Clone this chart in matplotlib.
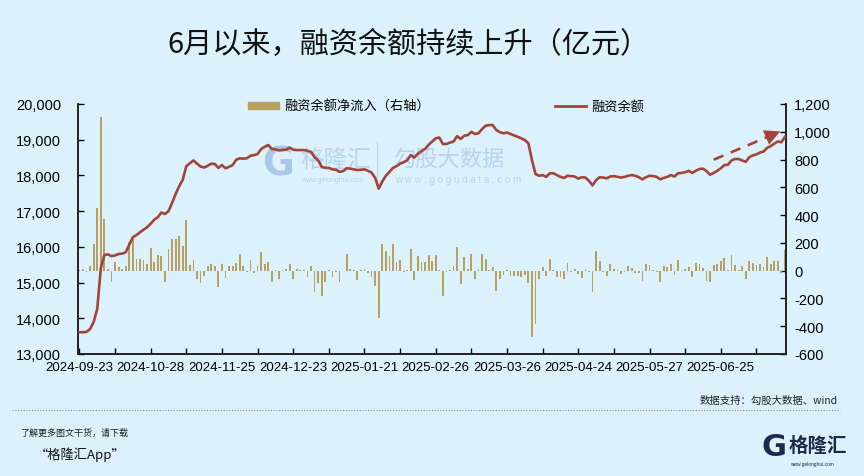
import matplotlib
matplotlib.use("Agg")
import matplotlib.pyplot as plt
from matplotlib.patches import Patch
from matplotlib.lines import Line2D
from matplotlib.ticker import FuncFormatter

plt.rcParams['font.family'] = ['Liberation Sans', 'Noto Sans CJK SC', 'DejaVu Sans']
plt.rcParams['axes.unicode_minus'] = False

# 融资余额（亿元），交易日序列 2024-09-23 起
balance = [13610, 13610, 13620, 13700, 13900, 14260, 15400, 15770, 15790, 15740,
           15760, 15800, 15810, 15850, 16060, 16270, 16330, 16410, 16480, 16550,
           16650, 16760, 16830, 16960, 16920, 17000, 17230, 17480, 17700, 17880,
           18260, 18340, 18420, 18330, 18250, 18220, 18270, 18330, 18320, 18210,
           18290, 18200, 18240, 18290, 18440, 18480, 18470, 18480, 18550, 18570,
           18600, 18740, 18800, 18850, 18740, 18730, 18700, 18710, 18720, 18780,
           18720, 18710, 18710, 18710, 18690, 18660, 18510, 18420, 18240, 18210,
           18210, 18170, 18160, 18100, 18120, 18200, 18190, 18170, 18150, 18160,
           18170, 18130, 18080, 17930, 17630, 17830, 17990, 18100, 18210, 18260,
           18330, 18370, 18430, 18570, 18500, 18610, 18680, 18740, 18860, 18950,
           19040, 19060, 18880, 18880, 18920, 18950, 19100, 19020, 19110, 19130,
           19220, 19160, 19180, 19300, 19390, 19410, 19410, 19270, 19210, 19180,
           19200, 19160, 19120, 19080, 19040, 18990, 18900, 18430, 18040, 17990,
           18010, 17960, 18060, 18060, 18010, 17960, 17930, 17990, 17980, 17970,
           17910, 17950, 17940, 17850, 17720, 17870, 17950, 17940, 17920, 17970,
           17980, 17960, 17940, 17960, 17990, 18010, 17990, 17950, 17890, 17950,
           17990, 17980, 17960, 17890, 17930, 17960, 18010, 17970, 18060, 18070,
           18090, 18130, 18070, 18130, 18180, 18190, 18120, 18020, 18070, 18130,
           18200, 18290, 18300, 18420, 18460, 18460, 18420, 18380, 18510, 18560,
           18590, 18640, 18670, 18770, 18820, 18890, 18950, 18930, 19080]

# 融资余额净流入（亿元，右轴）
inflow = [5, 12, -7, 31, 192, 449, 1104, 372, 12, -79,
          65, 24, 12, 31, 210, 228, 84, 84, 74, 50,
          163, 62, 115, 108, -79, 156, 228, 228, 247, 180,
          365, 43, 77, -60, -91, -36, 31, 46, 31, -120,
          48, -53, 31, 31, 55, 118, 31, -7, 74, -17,
          36, 132, 48, 65, -84, 5, -60, 7, 12, 48,
          -60, 12, 5, 7, -48, 31, -151, -90, -180, -79,
          5, -43, -7, -84, -5, 118, 12, 5, -67, 5,
          12, -17, -43, -113, -341, 192, 144, 108, 192, 60,
          77, -7, 5, 156, -67, 103, 65, 60, 115, 67,
          110, 7, -180, -7, 7, 31, 168, -96, 98, 12,
          118, -60, 12, 118, 84, 7, 24, -144, -60, -31,
          5, -36, -36, -36, -43, -29, -89, -475, -384, -60,
          24, -41, 84, 5, -48, -43, -60, 55, -7, 12,
          -24, -53, 12, -7, -151, 139, 72, -7, -41, 48,
          12, 5, -24, -7, 31, 17, -17, -19, -77, 48,
          41, 5, -7, -84, 31, 24, 48, -31, 77, 5,
          12, 24, -43, 58, 50, 17, -77, -84, 43, 50,
          67, 91, 7, 113, 43, 5, 31, -60, 70, 55,
          41, 48, 24, 98, 50, 67, 67, -17, 149]

tick_pos = [0, 20, 40, 60, 80, 100, 120, 140, 160, 180]
tick_labels = ['2024-09-23', '2024-10-28', '2024-11-25', '2024-12-23', '2025-01-21',
               '2025-02-26', '2025-03-26', '2025-04-24', '2025-05-27', '2025-06-25']

# 虚线箭头的起止（序号, 融资余额）
arrow_x = [178, 196]
arrow_y = [18440, 19200]

bg = '#dbf2fc'
line_c = '#a3433a'
bar_c = '#b9a062'

x = list(range(len(balance)))

fig = plt.figure(figsize=(8.64, 4.77), dpi=100, facecolor=bg)
ax = fig.add_axes([78 / 864, 122 / 477, 708 / 864, 250 / 477])
ax2 = ax.twinx()
ax.set_zorder(ax2.get_zorder() + 1)
ax.patch.set_visible(False)
ax2.set_facecolor(bg)

ax2.bar(x, inflow, width=0.5, color=bar_c, zorder=2)
ax.plot(x, balance, color=line_c, lw=1.9, solid_joinstyle='round', zorder=3)

# 上升趋势虚线箭头
ax.plot(arrow_x, arrow_y, color=line_c, lw=1.9, dashes=(4, 3), zorder=3)
ax.annotate('', xy=(arrow_x[1] + 1.4, arrow_y[1] + 65), xytext=(arrow_x[1] - 1.5, arrow_y[1] - 60),
            arrowprops=dict(arrowstyle='-|>,head_length=1.1,head_width=0.55', color=line_c, lw=0.1),
            zorder=4)

ax.set_xlim(-0.4, len(balance) - 0.7)
ax.set_ylim(13000, 20000)
ax2.set_ylim(-600, 1200)
ax.set_yticks(range(13000, 20001, 1000))
ax2.set_yticks(range(-600, 1201, 200))
ax.yaxis.set_major_formatter(FuncFormatter(lambda v, p: f'{int(v):,}'))
ax2.yaxis.set_major_formatter(FuncFormatter(lambda v, p: f'{int(v):,}'))

ax.set_xticks(tick_pos)
ax.set_xticklabels(tick_labels, fontsize=9.5)
ax.set_xticks(range(10, len(balance), 20), minor=True)

for a in (ax, ax2):
    a.spines['top'].set_visible(False)
    for s in a.spines.values():
        s.set_linewidth(1.2)
        s.set_color('#222222')
ax.tick_params(axis='y', direction='in', length=4, width=1, labelsize=10.5, pad=12)
ax2.tick_params(axis='y', direction='in', length=4, width=1, labelsize=10.5, pad=6)
ax.tick_params(axis='x', which='both', direction='in', length=4, width=1, pad=5)
ax.tick_params(axis='x', which='minor', labelbottom=False)

handles = [Patch(color=bar_c, label='融资余额净流入（右轴）'),
           Line2D([0], [0], color=line_c, lw=2, label='融资余额')]
ax.legend(handles=handles, loc='center', bbox_to_anchor=(0.52, 0.99), ncol=2, frameon=False,
          columnspacing=9.5, handlelength=2.3, handleheight=0.45, handletextpad=0.4,
          prop={'family': ['Noto Sans CJK SC'], 'size': 9.5})

# 水印
wm = '#b8d3ea'
fig.text(278 / 864, 1 - 165 / 477, 'G', fontsize=28, fontweight='bold', color='#a8c8e6',
         ha='center', va='center', family=['DejaVu Sans'], zorder=0)
fig.text(300 / 864, 1 - 160 / 477, '格隆汇', fontsize=17, color=wm, ha='left', va='center',
         family=['Noto Sans CJK SC'], zorder=0)
fig.text(301 / 864, 1 - 180 / 477, 'www.gelonghui.com', fontsize=5, color=wm, ha='left', va='center',
         zorder=0)
fig.add_artist(Line2D([377 / 864, 377 / 864], [1 - 143 / 477, 1 - 188 / 477], color=wm, lw=0.8, zorder=0))
fig.text(393 / 864, 1 - 160 / 477, '勾股大数据', fontsize=16, color=wm, ha='left', va='center',
         family=['Noto Sans CJK SC'], zorder=0)
fig.text(395 / 864, 1 - 180 / 477, 'w w w . g o g u d a t a . c o m', fontsize=7, color=wm,
         ha='left', va='center', zorder=0)

# 标题与注释
fig.text(408 / 864, 1 - 45 / 477, '6月以来，融资余额持续上升（亿元）', fontsize=21, fontweight='medium',
         ha='center', va='center', family=['Noto Sans CJK SC'], color='#111111')
fig.text(838 / 864, 1 - 401 / 477, '数据支持：勾股大数据、wind', fontsize=7.5, ha='right', va='center',
         family=['Noto Sans CJK SC', 'Liberation Sans'], color='#222222')
fig.add_artist(Line2D([12 / 864, 840 / 864], [1 - 411 / 477, 1 - 411 / 477], color='#8a8a8a',
                      lw=0.8, linestyle=(0, (1, 1.5))))
fig.text(20 / 864, 1 - 433 / 477, '了解更多图文干货，请下载', fontsize=6.5, ha='left', va='center',
         family=['Noto Sans CJK SC'], style='italic', color='#222222')
fig.text(35 / 864, 1 - 455 / 477, '“格隆汇App”', fontsize=9.5, ha='left', va='center',
         family=['Noto Sans CJK SC'], style='italic', color='#111111')

# 右下角标志
navy = '#1c2b4b'
fig.text(774 / 864, 1 - 448 / 477, 'G', fontsize=22, fontweight='bold', color=navy,
         ha='center', va='center', family=['DejaVu Sans'])
fig.text(789 / 864, 1 - 446 / 477, '格隆汇', fontsize=14, fontweight='bold', color=navy,
         ha='left', va='center', family=['Noto Sans CJK SC'])
fig.text(790 / 864, 1 - 465 / 477, 'www.gelonghui.com', fontsize=3.5, color=navy, ha='left', va='center')

fig.savefig('out.png', dpi=100, facecolor=bg)
